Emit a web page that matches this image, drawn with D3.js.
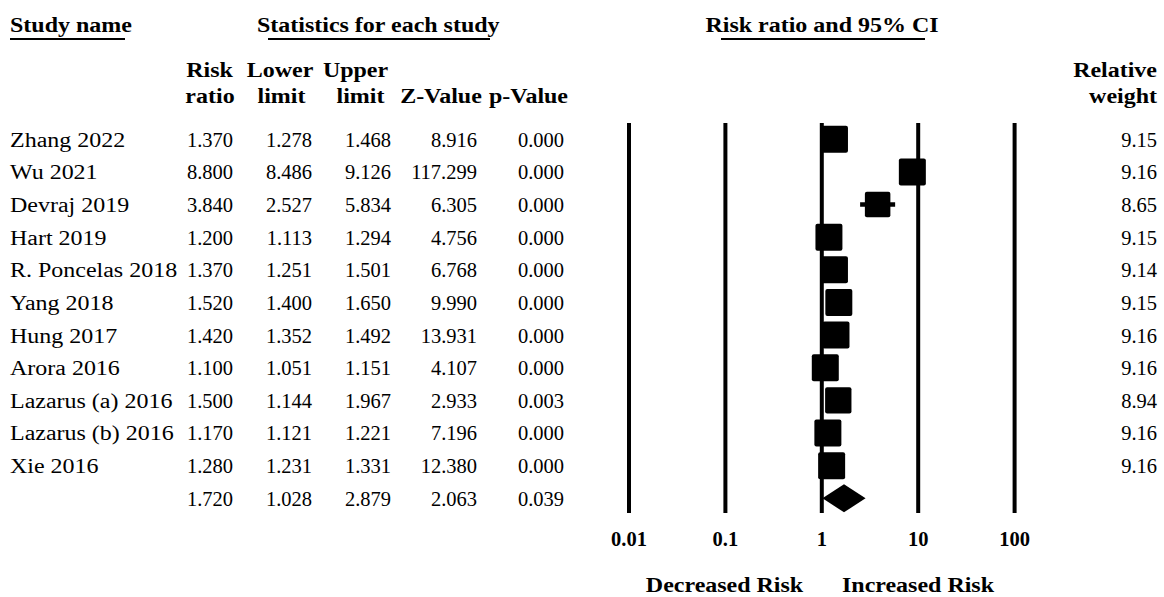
<!DOCTYPE html>
<html>
<head>
<meta charset="utf-8">
<script src="https://cdn.jsdelivr.net/npm/d3@7"></script>
<style>
  html, body { margin: 0; padding: 0; background: #fff; }
  svg { display: block; }
  text { font-family: "Liberation Serif", "Times New Roman", serif; fill: #000; }
</style>
</head>
<body>
<svg id="chart" width="1164" height="597"></svg>
<script>
// ---- data ----
const studies = ["Zhang 2022", "Wu 2021", "Devraj 2019", "Hart 2019", "R. Poncelas 2018", "Yang 2018",
  "Hung 2017", "Arora 2016", "Lazarus (a) 2016", "Lazarus (b) 2016", "Xie 2016"];
const riskRatio = [1.370, 8.800, 3.840, 1.200, 1.370, 1.520, 1.420, 1.100, 1.500, 1.170, 1.280];
const lowerLimit = [1.278, 8.486, 2.527, 1.113, 1.251, 1.400, 1.352, 1.051, 1.144, 1.121, 1.231];
const upperLimit = [1.468, 9.126, 5.834, 1.294, 1.501, 1.650, 1.492, 1.151, 1.967, 1.221, 1.331];
const zValue = [8.916, 117.299, 6.305, 4.756, 6.768, 9.990, 13.931, 4.107, 2.933, 7.196, 12.380];
const pValue = [0.000, 0.000, 0.000, 0.000, 0.000, 0.000, 0.000, 0.000, 0.003, 0.000, 0.000];
const relWeight = [9.15, 9.16, 8.65, 9.15, 9.14, 9.15, 9.16, 9.16, 8.94, 9.16, 9.16];
const summary = { rr: 1.720, lower: 1.028, upper: 2.879, z: 2.063, p: 0.039 };
const tickValues = [0.01, 0.1, 1, 10, 100];
const tickLabels = ["0.01", "0.1", "1", "10", "100"];

// ---- layout ----
const svg = d3.select("#chart");
const FS = 20.5;          // font size
const SX = 1.17;          // horizontal stretch for word text (to emulate Palatino widths)
const nRows = studies.length + 1;
const y = d3.scalePoint().domain(d3.range(nRows)).range([139.3, 498.3]);
const x = d3.scaleLog().domain([0.01, 100]).range([628.5, 1014.1]);
const boxSize = d3.scaleLinear().domain([0, 9.16]).range([0, 27]);
const BASE = 7.4;          // baseline offset from row center
const fmt3 = d3.format(".3f");
const fmt2 = d3.format(".2f");

function wordText(txt, px, py, anchor, bold) {
  svg.append("text")
    .attr("transform", `translate(${px},${py}) scale(${SX},1)`)
    .attr("text-anchor", anchor)
    .attr("font-size", FS)
    .attr("font-weight", bold ? "bold" : "normal")
    .text(txt);
}

// ---- top headers with underlines ----
wordText("Study name", 10, 32, "start", true);
wordText("Statistics for each study", 257, 32, "start", true);
wordText("Risk ratio and 95% CI", 822, 32, "middle", true);
const underlines = [[10, 125], [268, 490], [721, 925]];
svg.selectAll("line.ul").data(underlines).join("line")
  .attr("class", "ul")
  .attr("x1", d => d[0]).attr("x2", d => d[1])
  .attr("y1", 39).attr("y2", 39)
  .attr("stroke", "#000").attr("stroke-width", 2.2);

// ---- column headers ----
const headers = [
  ["Risk", 209.5, 77, "middle"], ["ratio", 210, 103, "middle"],
  ["Lower", 280, 77, "middle"], ["limit", 281.5, 103, "middle"],
  ["Upper", 355.5, 77, "middle"], ["limit", 360.5, 103, "middle"],
  ["Z-Value", 441, 103, "middle"], ["p-Value", 528.5, 103, "middle"],
  ["Relative", 1157, 77, "end"], ["weight", 1157, 103, "end"]
];
headers.forEach(h => wordText(h[0], h[1], h[2], h[3], true));

// ---- table ----
studies.forEach((s, i) => wordText(s, 10, y(i) + BASE, "start", false));

const colRight = [233, 312, 391, 477, 564];
const cols = [riskRatio, lowerLimit, upperLimit, zValue, pValue];
const rowsData = [];
cols.forEach((arr, c) => {
  arr.forEach((v, i) => rowsData.push({ row: i, col: c, v }));
});
[summary.rr, summary.lower, summary.upper, summary.z, summary.p].forEach((v, c) =>
  rowsData.push({ row: studies.length, col: c, v }));

svg.selectAll("text.num").data(rowsData).join("text")
  .attr("class", "num")
  .attr("x", d => colRight[d.col])
  .attr("y", d => y(d.row) + BASE)
  .attr("text-anchor", "end")
  .attr("font-size", FS)
  .text(d => fmt3(d.v));

svg.selectAll("text.wt").data(relWeight).join("text")
  .attr("class", "wt")
  .attr("x", 1157)
  .attr("y", (d, i) => y(i) + BASE)
  .attr("text-anchor", "end")
  .attr("font-size", FS)
  .text(d => fmt2(d));

// ---- axis with full-height reference lines ----
const axisY = 513;
const axis = d3.axisBottom(x)
  .tickValues(tickValues)
  .tickFormat((d, i) => tickLabels[i])
  .tickSize(-(axisY - 123));
const gAxis = svg.append("g").attr("transform", `translate(0,${axisY})`).call(axis);
gAxis.select(".domain").remove();
gAxis.selectAll(".tick line").attr("stroke", "#000").attr("stroke-width", 4);
gAxis.selectAll(".tick text")
  .attr("y", 33).attr("dy", 0)
  .attr("font-size", FS).attr("font-weight", "bold")
  .attr("font-family", "Liberation Serif, serif")
  .attr("fill", "#000");

// ---- CI lines ----
svg.selectAll("line.ci").data(studies).join("line")
  .attr("class", "ci")
  .attr("x1", (d, i) => x(lowerLimit[i]))
  .attr("x2", (d, i) => x(upperLimit[i]))
  .attr("y1", (d, i) => y(i)).attr("y2", (d, i) => y(i))
  .attr("stroke", "#000").attr("stroke-width", 4.5);

// ---- boxes ----
svg.selectAll("rect.box").data(studies).join("rect")
  .attr("class", "box")
  .attr("x", (d, i) => x(riskRatio[i]) - boxSize(relWeight[i]) / 2)
  .attr("y", (d, i) => y(i) - boxSize(relWeight[i]) / 2)
  .attr("width", (d, i) => boxSize(relWeight[i]))
  .attr("height", (d, i) => boxSize(relWeight[i]))
  .attr("rx", 2).attr("ry", 2)
  .attr("fill", "#000");

// ---- summary diamond ----
const sy = y(studies.length);
const dh = 14;
svg.append("path")
  .attr("d", `M${x(summary.lower)},${sy} L${x(summary.rr)},${sy - dh} L${x(summary.upper)},${sy} L${x(summary.rr)},${sy + dh} Z`)
  .attr("fill", "#000");

// ---- bottom labels ----
wordText("Decreased Risk", 724.5, 592, "middle", true);
wordText("Increased Risk", 918, 592, "middle", true);
</script>
</body>
</html>
